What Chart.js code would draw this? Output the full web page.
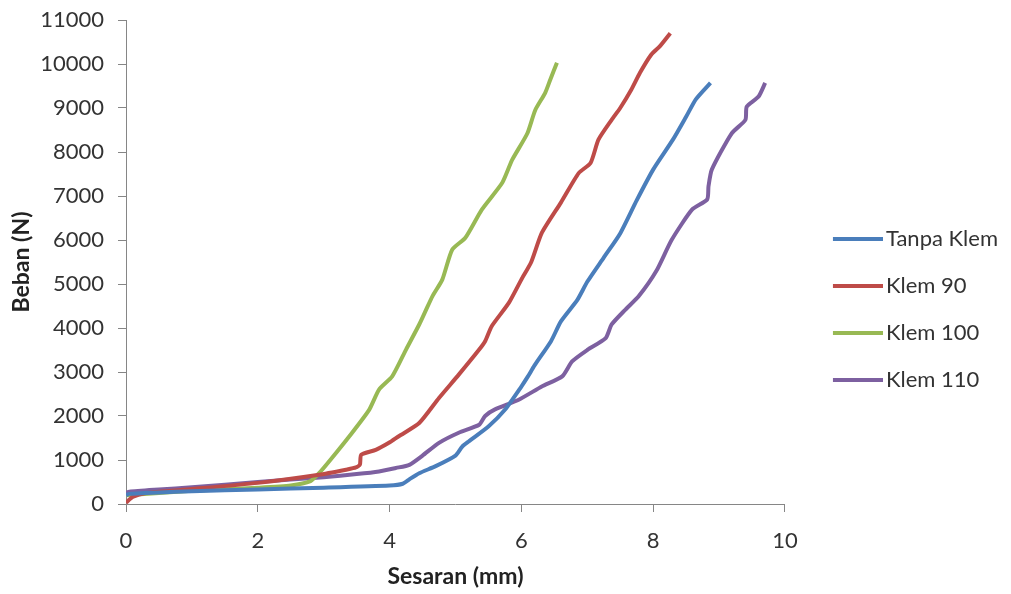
<!DOCTYPE html>
<html>
<head>
<meta charset="utf-8">
<script src="https://cdn.jsdelivr.net/npm/chart.js@4.4.0/dist/chart.umd.min.js"></script>
<style>
  html, body { margin: 0; padding: 0; background: #fff; }
  #wrap { width: 1011px; height: 594px; }
</style>
</head>
<body>
<div id="wrap"><canvas id="chart1"></canvas></div>
<script>
// data: Sesaran (mm) vs Beban (N)
var tanpaX = [0, 0.05, 0.5, 1, 2, 3, 4, 4.2, 4.3, 4.45, 4.7, 5.0, 5.1, 5.2, 5.5, 5.75, 6.0, 6.1, 6.2, 6.45, 6.6, 6.85, 7.0, 7.25, 7.5, 7.75, 8.0, 8.3, 8.5, 8.65, 8.87];
var tanpaY = [200, 230, 260, 290, 330, 370, 420, 460, 560, 700, 860, 1100, 1300, 1420, 1760, 2140, 2670, 2900, 3150, 3700, 4150, 4640, 5050, 5600, 6150, 6900, 7600, 8280, 8800, 9200, 9570];

var klem90X = [0, 0.1, 0.3, 1, 2, 2.93, 3.34, 3.49, 3.55, 3.57, 3.79, 3.99, 4.14, 4.45, 4.75, 5.05, 5.36, 5.45, 5.55, 5.81, 6.0, 6.15, 6.31, 6.6, 6.87, 7.05, 7.17, 7.37, 7.5, 7.67, 7.8, 7.97, 8.1, 8.26];
var klem90Y = [30, 160, 250, 340, 480, 665, 780, 830, 900, 1120, 1230, 1390, 1540, 1840, 2410, 2940, 3510, 3700, 4040, 4570, 5100, 5500, 6160, 6850, 7520, 7750, 8280, 8730, 9000, 9420, 9800, 10210, 10400, 10700];

var klem100X = [0, 1, 2, 2.5, 2.8, 2.93, 3.1, 3.39, 3.69, 3.84, 4.04, 4.25, 4.45, 4.55, 4.65, 4.8, 4.95, 5.15, 5.4, 5.71, 5.86, 6.09, 6.21, 6.36, 6.44, 6.54];
var klem100Y = [200, 300, 370, 420, 520, 700, 1000, 1540, 2140, 2600, 2900, 3510, 4080, 4400, 4720, 5100, 5780, 6050, 6690, 7300, 7820, 8420, 8950, 9340, 9650, 10030];

var klem110X = [0, 0.05, 0.5, 1, 2, 3, 3.5, 3.84, 4.1, 4.3, 4.5, 4.75, 5.05, 5.36, 5.45, 5.6, 5.96, 6.31, 6.62, 6.77, 7.0, 7.28, 7.37, 7.58, 7.78, 8.05, 8.28, 8.59, 8.82, 8.84, 8.89, 9.19, 9.4, 9.42, 9.6, 9.7];
var klem110Y = [250, 280, 330, 380, 500, 610, 680, 740, 820, 890, 1100, 1390, 1620, 1800, 2000, 2150, 2370, 2670, 2900, 3240, 3500, 3770, 4080, 4420, 4720, 5300, 6000, 6690, 6920, 7220, 7600, 8420, 8730, 9030, 9260, 9570];

var seriesNames = ['Tanpa Klem', 'Klem 90', 'Klem 100', 'Klem 110'];
var seriesColors = ['#4A7EBB', '#BE4B48', '#98B954', '#7D60A0'];

var allX = [tanpaX, klem90X, klem100X, klem110X];
var allY = [tanpaY, klem90Y, klem100Y, klem110Y];

function pts(xs, ys) {
    return xs.map(function(x, i) { return { x: x, y: ys[i] }; });
}

// legend swatch: a short line with blank space on its left
function swatch(color) {
    var c = document.createElement('canvas');
    c.width = 81;
    c.height = 4;
    var g = c.getContext('2d');
    g.fillStyle = color;
    g.fillRect(31, 0, 50, 4);
    return c;
}

var ctx = document.getElementById('chart1').getContext('2d');

var myChart = new Chart(ctx, {
    type: 'line',
    data: {
        datasets: seriesNames.map(function(name, i) {
            return {
                label: name,
                data: pts(allX[i], allY[i]),
                borderColor: seriesColors[i],
                backgroundColor: seriesColors[i],
                borderWidth: 4,
                pointRadius: 0,
                pointStyle: swatch(seriesColors[i]),
                tension: 0.2,
                fill: false
            };
        })
    },
    options: {
        responsive: true,
        maintainAspectRatio: false,
        animation: false,
        layout: {
            padding: { top: 20, left: 0, right: 3, bottom: 0 }
        },
        plugins: {
            legend: {
                position: 'right',
                title: { display: true, text: '', padding: 0, font: { size: 4, lineHeight: 1.25 } },
                labels: {
                    usePointStyle: true,
                    pointStyleWidth: 65,
                    padding: 25,
                    color: '#333',
                    font: { family: 'Lato', size: 22 }
                }
            },
            tooltip: { enabled: false }
        },
        scales: {
            x: {
                type: 'linear',
                min: 0,
                max: 10,
                ticks: {
                    stepSize: 2,
                    padding: 16,
                    color: '#333',
                    font: { family: 'Lato', size: 22 }
                },
                grid: { drawOnChartArea: false, tickLength: 8, color: '#868686' },
                border: { color: '#868686' },
                title: {
                    display: true,
                    text: 'Sesaran (mm)',
                    color: '#222',
                    font: { family: 'Lato', size: 23, weight: 'bold' }
                },
                afterFit: function(scale) { scale.height = 90; }
            },
            y: {
                min: 0,
                max: 11000,
                ticks: {
                    stepSize: 1000,
                    padding: 14,
                    color: '#333',
                    font: { family: 'Lato', size: 22, lineHeight: 0.5 },
                    callback: function(v) { return String(v); }
                },
                grid: { drawOnChartArea: false, tickLength: 8, color: '#868686' },
                border: { color: '#868686' },
                title: {
                    display: true,
                    text: 'Beban (N)',
                    color: '#222',
                    font: { family: 'Lato', size: 23, weight: 'bold' },
                    padding: { top: 8 }
                },
                afterFit: function(scale) { scale.width = 126; }
            }
        }
    }
});
</script>
</body>
</html>
